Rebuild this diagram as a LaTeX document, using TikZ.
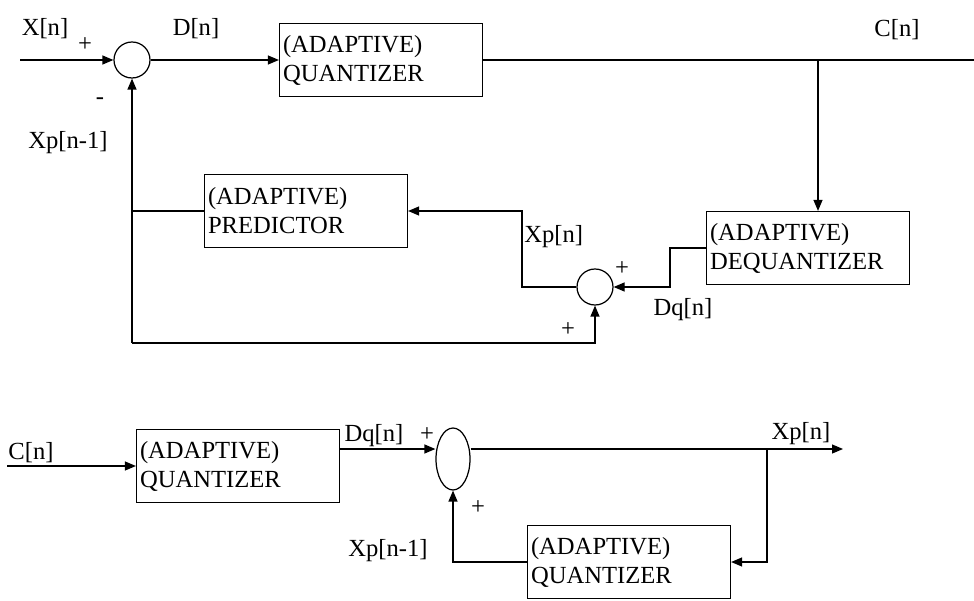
\documentclass[tikz,border=0pt]{standalone}
\usepackage{fontspec}
\setmainfont{Liberation Serif}
\usetikzlibrary{positioning,arrows.meta,calc,shapes.geometric}

\begin{document}
\begin{tikzpicture}[
    x=0.02cm, y=-0.02cm,
    >={Triangle[length=2.2mm,width=1.8mm]},
    font=\fontsize{14}{16.5}\selectfont,
    line width=0.7pt,
    box/.style={draw, minimum width=4.06cm, minimum height=1.46cm,
                text width=4.06cm-4pt, inner xsep=2pt, align=left},
    sumnode/.style={draw, circle, minimum size=0.72cm, inner sep=0pt},
    sumoval/.style={draw, ellipse, minimum width=0.68cm,
                    minimum height=1.24cm, inner sep=0pt},
    arrow/.style={->},
    sig/.style={inner sep=1pt},
]
\useasboundingbox (0,0) rectangle (974,601);

% === Encoder ===
\node[sumnode] (sum1) at (132,60) {};
\node[box] (quant) at (381,60) {(ADAPTIVE)\\QUANTIZER};
\node[box] (dequant) at (808,248) {(ADAPTIVE)\\DEQUANTIZER};
\node[sumnode] (sum2) at (595,287) {};
\node[box] (pred) at (306,211) {(ADAPTIVE)\\PREDICTOR};

\coordinate (xin) at (20,60);
\coordinate (cout) at (974,60);
\coordinate (split1) at (818,60);
\coordinate (xpbend) at (522,287);
\coordinate (fbk) at (132,343);

\draw[arrow] (xin) -- (sum1.west);
\draw[arrow] (sum1.east) -- (quant.west);
\draw (quant.east) -- (cout);
\draw[arrow] (split1) -- (split1 |- dequant.north);
\draw[arrow] (dequant.west) -- ++(-36,0) |- (sum2.east);
\draw[arrow] (sum2.west) -- (xpbend) |- (pred.east);
\draw (pred.west) -- (pred.west -| fbk);
\draw[arrow] (fbk) -- (sum1.south);
\draw[arrow] (fbk) -| (sum2.south);

% labels
\node[sig] (lxn) at (45,29) {X[n]};
\node[sig] (lp1) at (85,45) {+};
\node[sig] (lm1) at (100,101) {-};
\node[sig] (lxp1) at (68,143) {Xp[n-1]};
\node[sig] (ldn) at (196,29) {D[n]};
\node[sig] (lcn) at (897,30) {C[n]};
\node[sig, anchor=west] (lxpn) at (522,237) {Xp[n]};
\node[sig] (lp2) at (622,269) {+};
\node[sig] (ldq) at (683,310) {Dq[n]};
\node[sig] (lp3) at (568,330) {+};

% === Decoder ===
\node[box] (quant2) at (238,466) {(ADAPTIVE)\\QUANTIZER};
\node[sumoval] (sum3) at (453,459) {};
\node[box] (quant3) at (629,562) {(ADAPTIVE)\\QUANTIZER};

\coordinate (cin) at (7,466);
\coordinate (dqout) at ($(quant2.east)+(0,-17)$);
\coordinate (xpout) at (843,449);
\coordinate (split2) at (767,449);

\draw[arrow] (cin) -- (quant2.west);
\draw[arrow] (dqout) -- (dqout -| sum3.west);
\draw[arrow] (dqout -| sum3.east) -- (xpout);
\draw[arrow] (split2) |- (quant3.east);
\draw[arrow] (quant3.west) -| (sum3.south);

% labels
\node[sig] (lcn2) at (31,453) {C[n]};
\node[sig] (ldq2) at (374,436) {Dq[n]};
\node[sig] (lp4) at (427,435) {+};
\node[sig] (lxpn2) at (801,434) {Xp[n]};
\node[sig] (lp5) at (478,508) {+};
\node[sig] (lxp2) at (388,551) {Xp[n-1]};

\end{tikzpicture}
\end{document}
